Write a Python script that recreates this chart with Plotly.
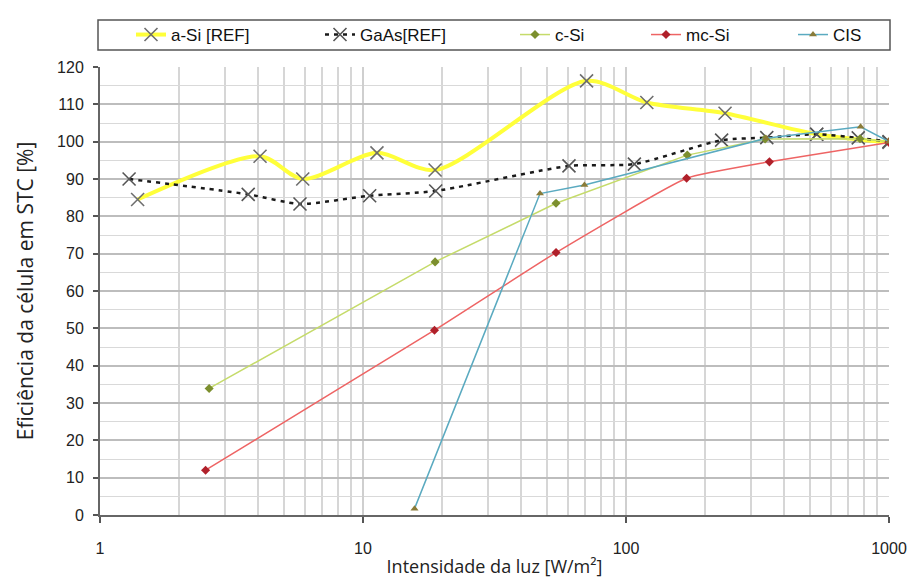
import plotly.graph_objects as go

# ---- data ----
asi_x = [1.39, 4.06, 5.9, 11.3, 18.8, 70.8, 120, 238, 531, 1000]
asi_y = [84.5, 96.1, 90.0, 97.0, 92.4, 116.3, 110.5, 107.6, 102.0, 99.8]

gaas_x = [1.29, 3.66, 5.76, 10.6, 18.9, 60.7, 107.6, 231, 343, 531, 764, 1000]
gaas_y = [90.0, 85.9, 83.3, 85.5, 86.8, 93.5, 94.0, 100.4, 101.1, 102.0, 101.0, 100.0]

csi_x = [2.6, 18.8, 54.2, 171, 338, 776, 1000]
csi_y = [33.9, 67.8, 83.5, 96.4, 100.7, 100.8, 100.0]

mcsi_x = [2.52, 18.7, 54.2, 170, 351, 1000]
mcsi_y = [12.0, 49.5, 70.3, 90.2, 94.6, 99.8]

cis_x = [15.7, 47.1, 69.5, 341, 780, 1000]
cis_y = [1.7, 86.1, 88.4, 100.9, 104.0, 100.0]

x_major = [1, 10, 100, 1000]
x_major_text = ["1", "10", "100", "1000"]
x_minor = [m * d for d in (1, 10, 100) for m in range(2, 10)]
y_ticks = list(range(0, 121, 10))
y_minor = list(range(5, 120, 10))

names = ["a-Si [REF]", "GaAs[REF]", "c-Si", "mc-Si", "CIS"]

fig = go.Figure()

fig.add_trace(go.Scatter(
    x=asi_x, y=asi_y, name=names[0], mode="lines+markers",
    line=dict(color="#FFFF3A", width=4, shape="spline", smoothing=0.8),
    marker=dict(symbol="x-thin", size=13, line=dict(width=1.6, color="#6E6E6E")),
    legend="legend"))
fig.add_trace(go.Scatter(
    x=gaas_x, y=gaas_y, name=names[1], mode="lines+markers",
    line=dict(color="#1A1A1A", width=2.5, dash="4px,5px", shape="spline", smoothing=0.6),
    marker=dict(symbol="x-thin", size=13, line=dict(width=1.6, color="#555555")),
    legend="legend2"))
fig.add_trace(go.Scatter(
    x=csi_x, y=csi_y, name=names[2], mode="lines+markers",
    line=dict(color="#C5DB6A", width=1.5),
    marker=dict(symbol="diamond", size=7, color="#7C8F2E", line=dict(width=0)),
    legend="legend3"))
fig.add_trace(go.Scatter(
    x=mcsi_x, y=mcsi_y, name=names[3], mode="lines+markers",
    line=dict(color="#EE6464", width=1.5, shape="spline", smoothing=0.4),
    marker=dict(symbol="diamond", size=7, color="#B0202A", line=dict(width=0)),
    legend="legend4"))
fig.add_trace(go.Scatter(
    x=cis_x, y=cis_y, name=names[4], mode="lines+markers",
    line=dict(color="#5AAAC0", width=1.5),
    marker=dict(symbol="triangle-up", size=7, color="#8A7B38", line=dict(width=0)),
    legend="legend5"))

L, R, T, B = 100, 21, 67, 70
W, H = 910, 585
pw, ph = W - L - R, H - T - B

def px_x(p):
    return (p - L) / pw

def px_y(p):
    return (H - B - p) / ph

legend_font = dict(family="Liberation Sans, Arial, sans-serif", size=17, color="#111111")
text_starts = [173, 362, 557, 688, 835]
legends = {}
for i, ts in enumerate(text_starts):
    key = "legend" if i == 0 else f"legend{i+1}"
    legends[key] = dict(
        x=px_x(ts - 42), y=px_y(35), xanchor="left", yanchor="middle",
        orientation="h", font=legend_font, bgcolor="rgba(0,0,0,0)",
        borderwidth=0, itemwidth=30)

fig.update_layout(
    width=W, height=H,
    margin=dict(l=L, r=R, t=T, b=B, autoexpand=False),
    paper_bgcolor="white", plot_bgcolor="white",
    showlegend=True,
    **legends,
    shapes=[dict(type="rect", xref="paper", yref="paper",
                 x0=px_x(98), x1=px_x(890), y0=px_y(50), y1=px_y(20),
                 line=dict(color="#555555", width=1.5))],
    xaxis=dict(
        type="log", range=[0, 3], automargin=False,
        tickmode="array", tickvals=x_major, ticktext=x_major_text,
        ticks="outside", ticklen=6, tickcolor="#555555", tickwidth=1.5,
        ticklabelstandoff=12,
        tickfont=dict(family="Liberation Sans, Arial, sans-serif", size=16, color="#222222"),
        showgrid=True, gridcolor="#CFCFCF", gridwidth=1.5,
        minor=dict(tickmode="array", tickvals=x_minor, showgrid=True,
                   gridcolor="#D6D6D6", gridwidth=1.5, ticks=""),
        showline=True, linecolor="#666666", linewidth=2, zeroline=False,
        title=dict(text="Intensidade da luz [W/m²]", standoff=4,
                   font=dict(family="Open Sans, sans-serif", size=18, color="#222222")),
    ),
    yaxis=dict(
        range=[0, 120], tickmode="array", tickvals=y_ticks, automargin=False,
        ticks="outside", ticklen=5, tickcolor="#555555", tickwidth=1.5,
        ticklabelstandoff=6,
        tickfont=dict(family="Liberation Sans, Arial, sans-serif", size=16, color="#222222"),
        showgrid=True, gridcolor="#BDBDBD", gridwidth=1.5,
        minor=dict(tickmode="array", tickvals=y_minor, showgrid=True,
                   gridcolor="#D9D9D9", gridwidth=1.2, ticks=""),
        showline=True, linecolor="#666666", linewidth=2, zeroline=False,
        title=dict(text="Eficiência da célula em STC [%]", standoff=18,
                   font=dict(family="Open Sans, sans-serif", size=21, color="#222222")),
    ),
)

fig.write_html("out.html")
